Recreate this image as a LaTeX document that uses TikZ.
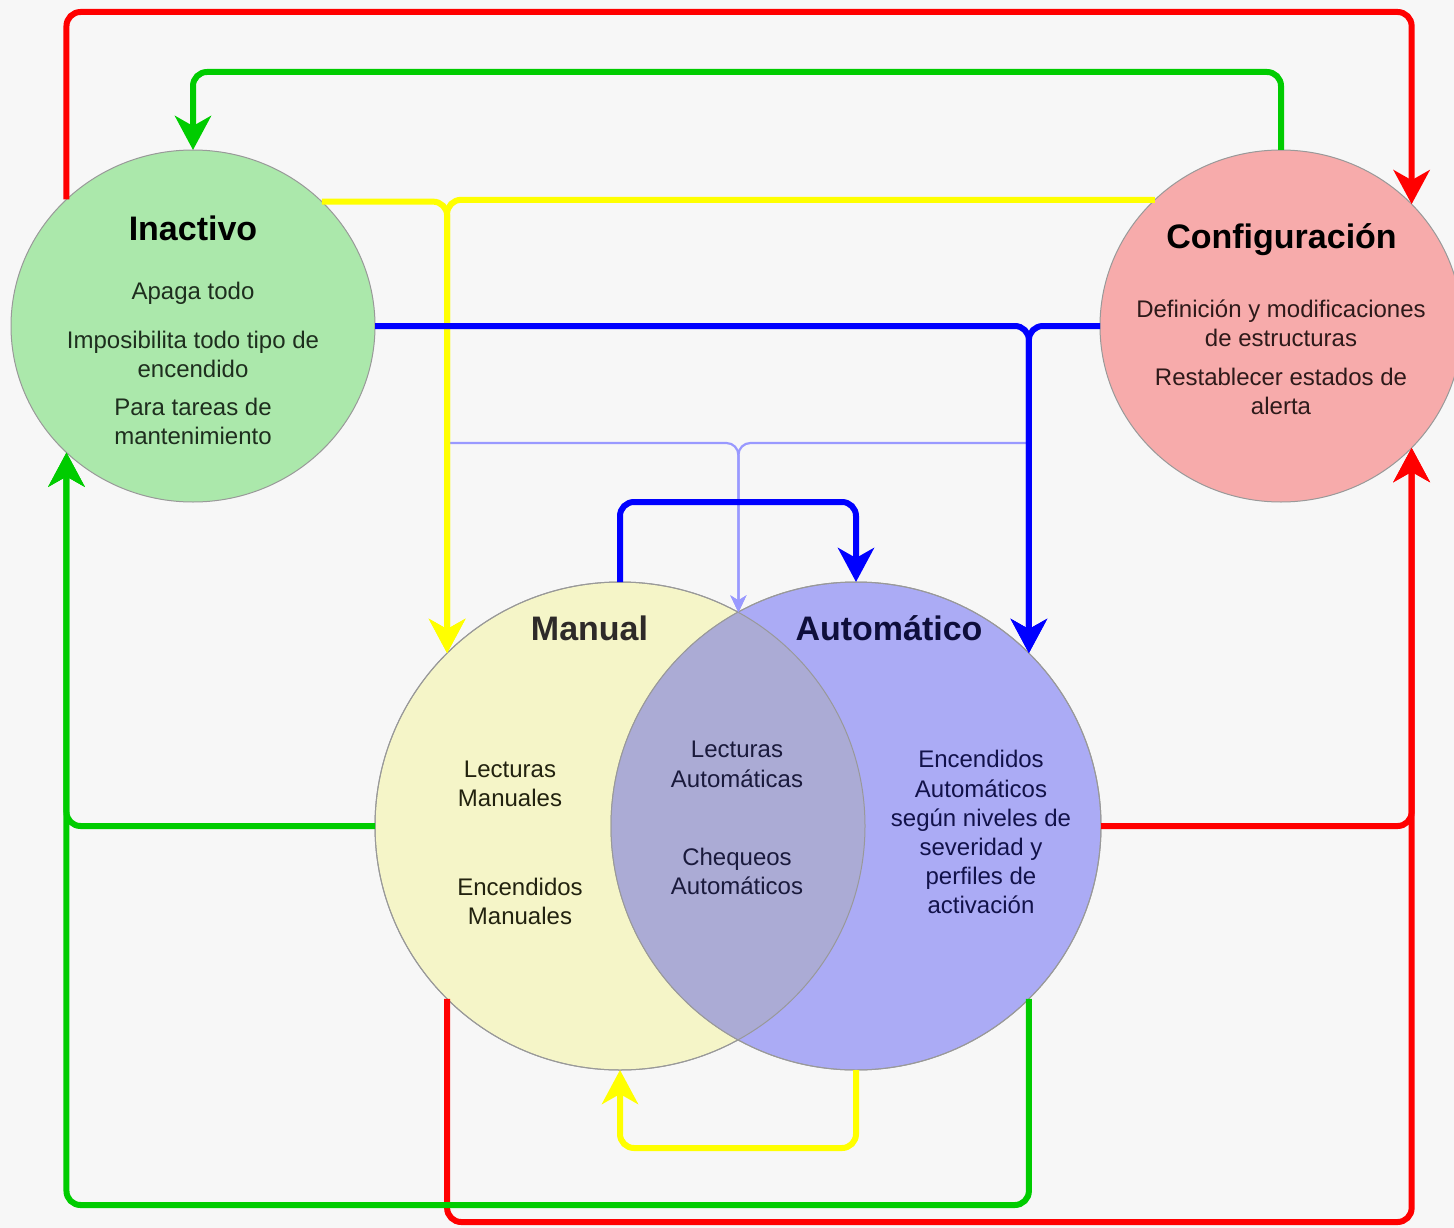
\documentclass[tikz,border=0pt]{standalone}
\usepackage{fontspec}
\setmainfont{Liberation Sans}
\usetikzlibrary{shapes.geometric,arrows.meta}
\definecolor{bg}{HTML}{F7F7F7}
\definecolor{inaF}{HTML}{ABE8AB}
\definecolor{cfgF}{HTML}{F7ABAB}
\definecolor{manF}{HTML}{F5F5C8}
\definecolor{autF}{HTML}{ABABF5}
\definecolor{ovF}{HTML}{ABABD5}
\definecolor{edge}{HTML}{999999}
\definecolor{cRed}{HTML}{FF0000}
\definecolor{cGreen}{HTML}{00CC00}
\definecolor{cYellow}{HTML}{FFFF00}
\definecolor{cBlue}{HTML}{0000FF}
\definecolor{cLight}{HTML}{9999FF}
\definecolor{inaT}{HTML}{1E2E1E}
\definecolor{cfgT}{HTML}{2E1A1A}
\definecolor{manT}{HTML}{22220F}
\definecolor{ovT}{HTML}{1A1A3C}
\definecolor{autT}{HTML}{12124A}
\begin{document}
\begin{tikzpicture}[x=1pt,y=-1pt,
  state/.style={ellipse, inner sep=0pt, outer sep=0pt, draw=edge, line width=1pt},
  conn/.style={line width=6pt, rounded corners=14pt},
  bigarrow/.style={-{Stealth[length=34pt,width=36pt,inset=10pt]}},
  thin/.style={line width=2.2pt, rounded corners=12pt, draw=cLight, -{Stealth[length=17pt,width=16pt,inset=5pt]}},
  ttl/.style={anchor=base, inner sep=0pt, font=\fontsize{34}{40}\selectfont\bfseries},
  lbl/.style={anchor=base, inner sep=0pt, font=\fontsize{24}{29}\selectfont}]
\useasboundingbox[fill=bg] (0,0) rectangle (1454,1228);

% states
\node[state, fill=inaF, minimum width=364pt, minimum height=352pt] (ina) at (193,326) {};
\node[state, fill=cfgF, minimum width=362pt, minimum height=352pt] (cfg) at (1281,326) {};
\node[state, fill=manF, minimum width=490pt, minimum height=488pt] (man) at (620,826) {};
\node[state, fill=autF, minimum width=490pt, minimum height=488pt] (aut) at (856,826) {};
\begin{scope}
  \clip (man.center) ellipse [x radius=245, y radius=244];
  \fill[ovF] (aut.center) ellipse [x radius=245, y radius=244];
\end{scope}
\draw[edge, line width=1pt] (man.center) ellipse [x radius=245, y radius=244];
\draw[edge, line width=1pt] (aut.center) ellipse [x radius=245, y radius=244];

% helper levels
\coordinate (yR) at (0,12);
\coordinate (yG) at (0,72);
\coordinate (yL) at (0,443);
\coordinate (yB) at (0,502);
\coordinate (yY) at (0,1148);
\coordinate (yG2) at (0,1205);
\coordinate (yR2) at (0,1222);

% light blue branches
\draw[thin] (man.135 |- yL) -| (man.61.1);
\draw[thin] (aut.45.6 |- yL) -| (man.61.1);

% red
\draw[conn, cRed, bigarrow] (ina.135.65) -- (ina.135.65 |- yR) -| (cfg.43.7);
\draw[conn, cRed, bigarrow] (man.-135) -- (man.-135 |- yR2) -| (cfg.-43.7);
\draw[conn, cRed, bigarrow] (aut.east) -| (cfg.-43.7);

% green
\draw[conn, cGreen, bigarrow] (cfg.north) -- (cfg.north |- yG) -| (ina.north);
\draw[conn, cGreen, bigarrow] (aut.-45.6) -- (aut.-45.6 |- yG2) -| (ina.-135.65);
\draw[conn, cGreen, bigarrow] (man.west) -| (ina.-135.65);

% yellow
\draw[conn, cYellow, bigarrow] (ina.44.8) -| (man.135);
\draw[conn, cYellow, bigarrow] (cfg.135.07) -| (man.135);
\draw[conn, cYellow, bigarrow] (aut.south) -- (aut.south |- yY) -| (man.south);

% blue
\draw[conn, cBlue, bigarrow] (ina.east) -| (aut.45.6);
\draw[conn, cBlue, bigarrow] (cfg.west) -| (aut.45.6);
\draw[conn, cBlue, bigarrow] (man.north) -- (man.north |- yB) -| (aut.north);

% titles
\node[ttl, text=black] (tIna) at (193,240) {Inactivo};
\node[ttl, text=black] (tCfg) at (1281.5,248) {Configuración};
\node[ttl, text=black!95!yellow] (tMan) at (589.5,640) {Manual};
\node[ttl, text=autT!80!black] (tAut) at (889,640) {Automático};

% Inactivo text
\node[lbl, text=inaT] (i1) at (193,299) {Apaga todo};
\node[lbl, text=inaT] (i2) at (193,348) {Imposibilita todo tipo de};
\node[lbl, text=inaT] (i3) at (193,377) {encendido};
\node[lbl, text=inaT] (i4) at (193,415) {Para tareas de};
\node[lbl, text=inaT] (i5) at (193,444) {mantenimiento};

% Configuracion text
\node[lbl, text=cfgT] (c1) at (1281,317) {Definición y modificaciones};
\node[lbl, text=cfgT] (c2) at (1281,346) {de estructuras};
\node[lbl, text=cfgT] (c3) at (1281,385) {Restablecer estados de};
\node[lbl, text=cfgT] (c4) at (1281,414) {alerta};

% Manual text
\node[lbl, text=manT] (m1) at (510,777) {Lecturas};
\node[lbl, text=manT] (m2) at (510,806) {Manuales};
\node[lbl, text=manT] (m3) at (520,895) {Encendidos};
\node[lbl, text=manT] (m4) at (520,924) {Manuales};

% overlap text
\node[lbl, text=ovT] (o1) at (737,757) {Lecturas};
\node[lbl, text=ovT] (o2) at (737,787) {Automáticas};
\node[lbl, text=ovT] (o3) at (737,865) {Chequeos};
\node[lbl, text=ovT] (o4) at (737,894) {Automáticos};

% Automatico text
\node[lbl, text=autT] (a1) at (981,767) {Encendidos};
\node[lbl, text=autT] (a2) at (981,797) {Automáticos};
\node[lbl, text=autT] (a3) at (981,826) {según niveles de};
\node[lbl, text=autT] (a4) at (981,855) {severidad y};
\node[lbl, text=autT] (a5) at (981,884) {perfiles de};
\node[lbl, text=autT] (a6) at (981,913) {activación};
\end{tikzpicture}
\end{document}
